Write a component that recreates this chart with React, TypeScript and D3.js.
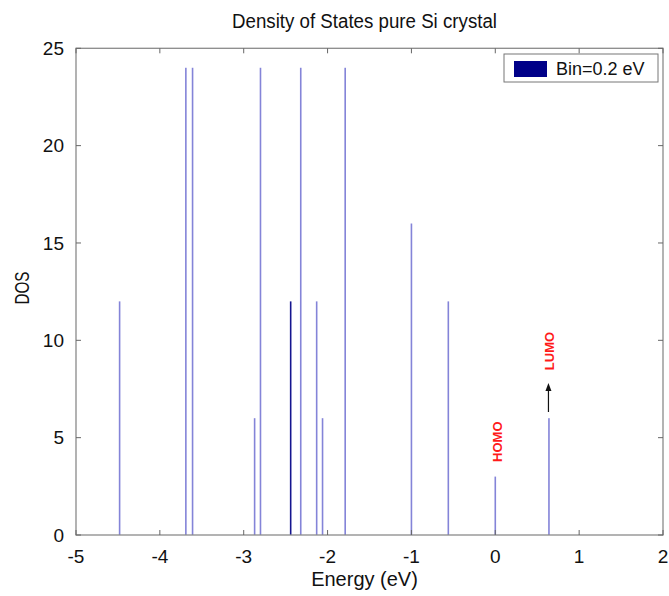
import React from "react";
import * as d3 from "d3";

const energies = [-4.48, -3.69, -3.61, -2.87, -2.8, -2.44, -2.32, -2.13, -2.06, -1.79, -1.0, -0.56, 0, 0.64];
const dosValues = [12, 24, 24, 6, 24, 12, 24, 12, 6, 24, 16, 12, 3, 6];
const highlightEnergy = -2.44;
const xTicks = [-5, -4, -3, -2, -1, 0, 1, 2];
const yTicks = [0, 5, 10, 15, 20, 25];
const title = "Density of States pure Si crystal";
const xLabel = "Energy (eV)";
const yLabel = "DOS";
const legendLabel = "Bin=0.2 eV";
const homoEnergy = 0;
const lumoEnergy = 0.64;

const W = 669;
const H = 596;
const FONT = "'Liberation Sans', Arial, Helvetica, sans-serif";

export default function App() {
  const x = d3.scaleLinear().domain([-5, 2]).range([76, 663]);
  const y = d3.scaleLinear().domain([0, 25]).range([535, 48.3]);
  const [x0, x1] = x.range();
  const [y0, y1] = y.range();
  const frame = "#8a8a8a";
  const tickLen = 5;

  return (
    <svg
      width={W}
      height={H}
      style={{ position: "absolute", left: 0, top: 0, background: "#fff" }}
      fontFamily={FONT}
    >
      <rect x={0} y={0} width={W} height={H} fill="#fff" />
      {/* title */}
      <text
        x={(x0 + x1) / 2 - 5}
        y={28}
        fontSize={20}
        textAnchor="middle"
        textLength={265}
        lengthAdjust="spacingAndGlyphs"
        fill="#111"
      >
        {title}
      </text>

      {/* bars */}
      {energies.map((e, i) => (
        <rect
          key={i}
          x={x(e) - 0.8}
          y={y(dosValues[i])}
          width={1.6}
          height={y(0) - y(dosValues[i])}
          fill={e === highlightEnergy ? "#15158f" : "#8484d8"}
        />
      ))}

      {/* frame */}
      <rect x={x0} y={y1} width={x1 - x0} height={y0 - y1} fill="none" stroke={frame} strokeWidth={1.3} />

      {/* x ticks */}
      {xTicks.map((t) => (
        <g key={"x" + t}>
          <line x1={x(t)} x2={x(t)} y1={y0} y2={y0 - tickLen} stroke="#666" strokeWidth={1} />
          <line x1={x(t)} x2={x(t)} y1={y1} y2={y1 + tickLen} stroke="#666" strokeWidth={1} />
          <text x={x(t)} y={563} fontSize={19} textAnchor="middle" fill="#111">
            {t}
          </text>
        </g>
      ))}

      {/* y ticks */}
      {yTicks.map((t) => (
        <g key={"y" + t}>
          <line x1={x0} x2={x0 + tickLen} y1={y(t)} y2={y(t)} stroke="#666" strokeWidth={1} />
          <line x1={x1} x2={x1 - tickLen} y1={y(t)} y2={y(t)} stroke="#666" strokeWidth={1} />
          <text x={64} y={y(t)} dy="0.35em" fontSize={19} textAnchor="end" fill="#111">
            {t}
          </text>
        </g>
      ))}

      {/* axis labels */}
      <text x={(x0 + x1) / 2 - 5} y={586} fontSize={20} textAnchor="middle" fill="#111">
        {xLabel}
      </text>
      <text
        transform={`translate(29, 288) rotate(-90)`}
        fontSize={20}
        textAnchor="middle"
        textLength={33}
        lengthAdjust="spacingAndGlyphs"
        fill="#111"
      >
        {yLabel}
      </text>

      {/* legend */}
      <rect x={504} y={54} width={154} height={28} fill="#fff" stroke="#777" strokeWidth={1} />
      <rect x={514} y={61} width={33} height={16} fill="#000088" />
      <text x={556} y={75} fontSize={18} fill="#111">
        {legendLabel}
      </text>

      {/* HOMO / LUMO annotations */}
      <text
        transform={`translate(${x(homoEnergy) + 6.5}, 441.7) rotate(-90)`}
        fontSize={13}
        fontWeight="bold"
        textAnchor="middle"
        fill="#ff1a1a"
      >
        HOMO
      </text>
      <text
        transform={`translate(${x(lumoEnergy) + 5}, 351) rotate(-90)`}
        fontSize={13}
        fontWeight="bold"
        textAnchor="middle"
        fill="#ff1a1a"
      >
        LUMO
      </text>
      <line x1={x(lumoEnergy) - 0.5} x2={x(lumoEnergy) - 0.5} y1={412} y2={390} stroke="#111" strokeWidth={1.2} />
      <path
        d={`M${x(lumoEnergy) - 0.5},383 L${x(lumoEnergy) - 3.5},391 L${x(lumoEnergy) + 2.5},391 Z`}
        fill="#111"
      />
    </svg>
  );
}
